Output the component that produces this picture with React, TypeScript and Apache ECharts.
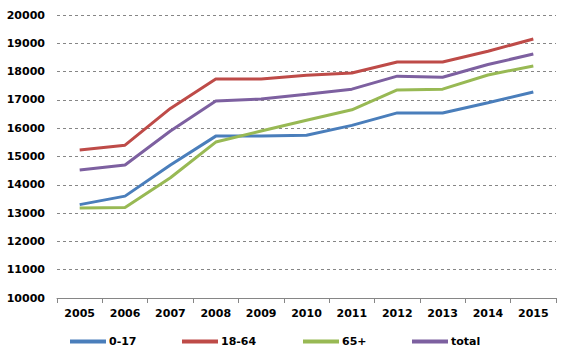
import React, { useEffect, useRef } from "react";
import * as echarts from "echarts";

const years = ["2005", "2006", "2007", "2008", "2009", "2010", "2011", "2012", "2013", "2014", "2015"];
const age0to17 = [13300, 13600, 14700, 15720, 15720, 15750, 16100, 16540, 16540, 16900, 17280];
const age18to64 = [15230, 15400, 16700, 17740, 17740, 17870, 17950, 18340, 18340, 18720, 19150];
const age65plus = [13180, 13200, 14250, 15510, 15900, 16280, 16650, 17350, 17380, 17880, 18200];
const total = [14520, 14700, 15900, 16960, 17030, 17200, 17380, 17840, 17800, 18250, 18620];

const names = ["0-17", "18-64", "65+", "total"];
const colors = ["#4A7EBB", "#BE4B48", "#98B954", "#7D60A0"];
const legendLefts = [65, 177, 298, 407];

export default function App() {
  const ref = useRef<HTMLDivElement>(null);
  useEffect(() => {
    const chart = echarts.init(ref.current!, null, { renderer: "svg" });
    const font = "DejaVu Sans";
    const data = [age0to17, age18to64, age65plus, total];
    chart.setOption({
      animation: false,
      grid: { left: 57, right: 30, top: 15, bottom: 66 },
      legend: names.map((n, i) => ({
        bottom: 12,
        left: legendLefts[i],
        icon: "rect",
        itemWidth: 36,
        itemHeight: 4,
        itemGap: 0,
        textStyle: { fontFamily: font, fontWeight: "bold", fontSize: 11, color: "#000", padding: [0, 0, 0, -2] },
        data: [n],
      })),
      xAxis: {
        type: "category",
        data: years,
        boundaryGap: true,
        axisLine: { lineStyle: { color: "#868686" } },
        axisTick: { show: true, length: 5, lineStyle: { color: "#868686" } },
        axisLabel: { fontFamily: font, fontWeight: "bold", fontSize: 11, color: "#000", margin: 10 },
      },
      yAxis: {
        type: "value",
        min: 10000,
        max: 20000,
        interval: 1000,
        axisLine: { show: false },
        axisTick: { show: false },
        axisLabel: {
          fontFamily: font,
          fontWeight: "bold",
          fontSize: 11,
          color: "#000",
          margin: 12,
          formatter: (v: number) => String(v),
        },
        splitLine: { lineStyle: { color: "#868686", type: [3, 3], width: 1 } },
      },
      series: data.map((d, i) => ({
        name: names[i],
        type: "line",
        data: d,
        symbol: "none",
        color: colors[i],
        lineStyle: { width: 3, color: colors[i] },
      })),
    });
    return () => chart.dispose();
  }, []);
  return <div ref={ref} style={{ width: 586, height: 364, position: "absolute", left: 0, top: 0 }} />;
}
